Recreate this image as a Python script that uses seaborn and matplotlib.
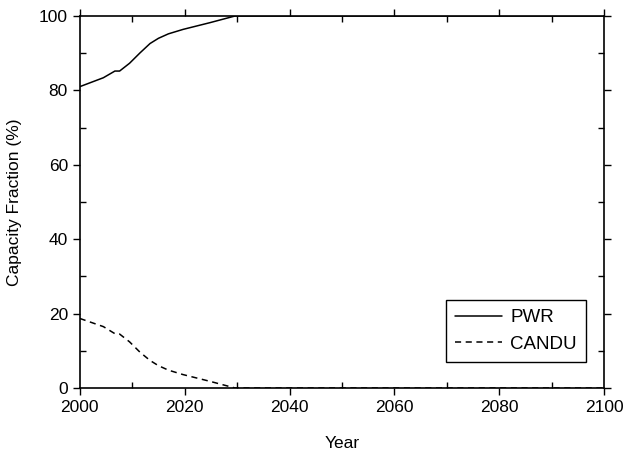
import pandas as pd
import matplotlib.pyplot as plt
import seaborn as sns
from matplotlib.ticker import MultipleLocator

# valores
years = [2000, 2004.5, 2006.7, 2007.6, 2009.5, 2011.5, 2013.4, 2015, 2016.9, 2019.7, 2024.8, 2029.6, 2030, 2050, 2075, 2100]
pwr = [81.0, 83.4, 85.2, 85.2, 87.3, 90.1, 92.6, 94.0, 95.2, 96.4, 98.2, 100, 100, 100, 100, 100]
candu = [18.7, 16.5, 14.6, 14.5, 12.4, 9.6, 7.4, 6.0, 4.8, 3.6, 1.8, 0, 0, 0, 0, 0]

df = pd.DataFrame({"Year": years * 2,
                   "Fraction": pwr + candu,
                   "Reactor": ["PWR"] * len(years) + ["CANDU"] * len(years)})

sns.set_style("ticks")
plt.rcParams['font.family'] = ['Liberation Sans', 'DejaVu Sans']
plt.rcParams['text.color'] = 'black'
plt.rcParams['axes.labelcolor'] = 'black'
plt.rcParams['xtick.color'] = 'black'
plt.rcParams['ytick.color'] = 'black'

fig = plt.figure(figsize=(6.23, 4.57), dpi=100)
ax = fig.add_axes([0.128, 0.151, 0.842, 0.814])

sns.lineplot(data=df, x="Year", y="Fraction", style="Reactor",
             dashes={"PWR": "", "CANDU": (4, 3)}, color="black",
             linewidth=1.1, ax=ax)

ax.set_xlim(2000, 2100)
ax.set_ylim(0, 100)
ax.xaxis.set_major_locator(MultipleLocator(20))
ax.xaxis.set_minor_locator(MultipleLocator(10))
ax.yaxis.set_major_locator(MultipleLocator(20))
ax.yaxis.set_minor_locator(MultipleLocator(10))
ax.tick_params(which="major", direction="out", length=5, width=1, labelsize=12.5)
ax.tick_params(which="minor", direction="in", length=4, width=1)
ax.tick_params(which="both", top=True, right=True)
for s in ax.spines.values():
    s.set_color("black")
    s.set_linewidth(1.2)

ax.set_xlabel("Year", fontsize=12.5, labelpad=15)
ax.set_ylabel("Capacity Fraction (%)", fontsize=12.5, labelpad=12)

leg = ax.legend(loc="lower right", bbox_to_anchor=(0.966, 0.07), borderaxespad=0,
                fontsize=13.5, handlelength=2.5, handletextpad=0.45,
                fancybox=False, edgecolor="black", framealpha=1,
                borderpad=0.5, labelspacing=0.5)
leg.get_frame().set_linewidth(1)

fig.savefig("out.png", dpi=100)
